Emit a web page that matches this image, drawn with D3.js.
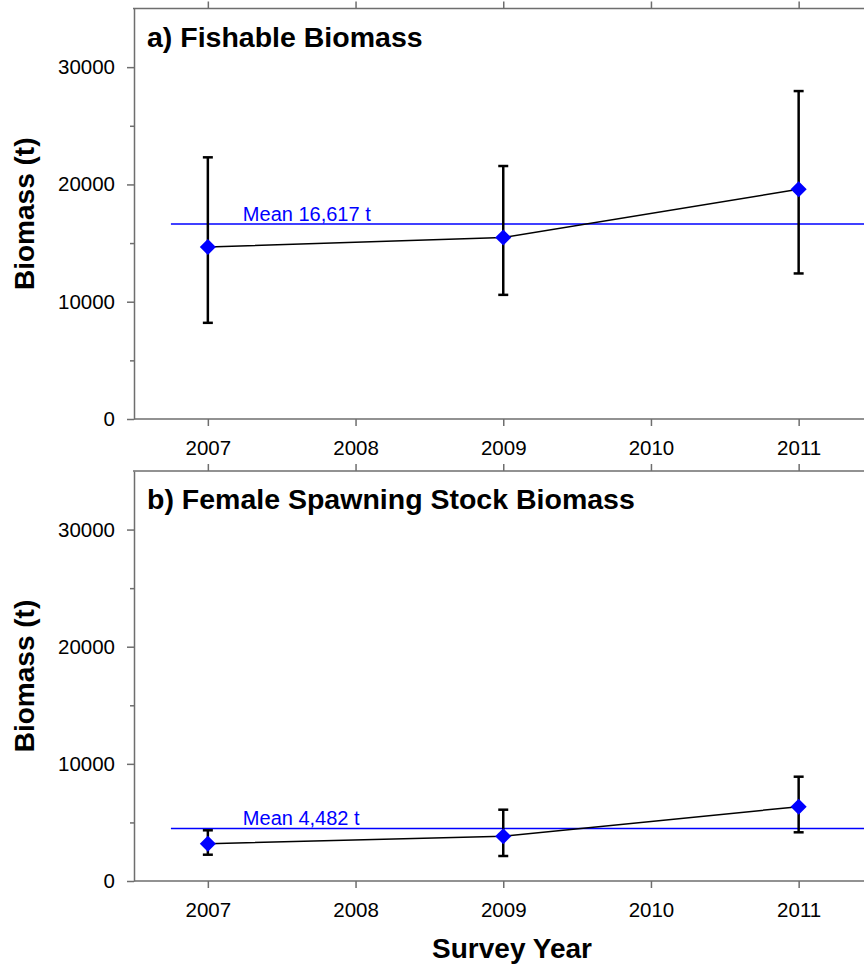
<!DOCTYPE html>
<html>
<head>
<meta charset="utf-8">
<script src="https://cdn.jsdelivr.net/npm/d3@7"></script>
<style>
  body { margin: 0; background: #fff; }
  text { font-family: "Liberation Sans", Arial, Helvetica, sans-serif; }
</style>
</head>
<body>
<div id="my_dataviz"></div>
<script>
// survey years and estimates
var years = [2007, 2009, 2011];
var xTicks = [2007, 2008, 2009, 2010, 2011];
var yTicks = [0, 10000, 20000, 30000];
var yMinor = [5000, 15000, 25000];

var fishable = [14670, 15470, 19590];
var fishableLo = [8200, 10585, 12410];
var fishableHi = [22310, 21570, 27960];
var fishableMean = 16617;

var female = [3184, 3816, 6343];
var femaleLo = [2245, 2134, 4157];
var femaleHi = [4328, 6087, 8904];
var femaleMean = 4482;

var titles = ["a) Fishable Biomass", "b) Female Spawning Stock Biomass"];
var meanLabels = ["Mean 16,617 t", "Mean 4,482 t"];

var width = 864, height = 964;
var axisColor = "#6e6e6e";

var svg = d3.select("#my_dataviz")
  .append("svg")
    .attr("width", width)
    .attr("height", height);

// x runs past the right edge, like the original
var x = d3.scaleLinear()
  .domain([2006.5, 2011.5])
  .range([134, 872.5]);

function drawPanel(top, bottom, title, est, lo, hi, mean, meanLabel) {
  var y = d3.scaleLinear()
    .domain([0, 35000])
    .range([bottom, top]);

  var g = svg.append("g");

  // top frame with ticks pointing up
  var topAxis = g.append("g")
    .attr("transform", "translate(0," + top + ")")
    .call(d3.axisTop(x).tickValues(xTicks).tickSize(7).tickSizeOuter(0).tickFormat(""));
  topAxis.select(".domain").attr("d", "M" + (x.range()[0] - 1) + ",0H" + width);

  // x axis
  var xAxis = g.append("g")
    .attr("transform", "translate(0," + bottom + ")")
    .call(d3.axisBottom(x).tickValues(xTicks).tickSize(7).tickPadding(14)
      .tickSizeOuter(0).tickFormat(d3.format("d")));
  xAxis.select(".domain").attr("d", "M" + x.range()[0] + ",0H" + width);
  xAxis.selectAll("text")
    .style("font-size", "20.5px")
    .attr("fill", "#000");

  // y axis, major and minor
  var yAxis = g.append("g")
    .attr("transform", "translate(" + x.range()[0] + ",0)")
    .call(d3.axisLeft(y).tickValues(yTicks).tickSize(7).tickPadding(12)
      .tickSizeOuter(0).tickFormat(d3.format("d")));
  yAxis.selectAll("text")
    .style("font-size", "20.5px")
    .attr("fill", "#000");
  g.append("g")
    .attr("transform", "translate(" + x.range()[0] + ",0)")
    .call(d3.axisLeft(y).tickValues(yMinor).tickSize(4).tickSizeOuter(0).tickFormat(""))
    .select(".domain").remove();

  g.selectAll(".domain, .tick line")
    .attr("stroke", axisColor)
    .attr("stroke-width", 1.5);

  // panel title
  g.append("text")
    .attr("x", 147)
    .attr("y", top + 38)
    .style("font-size", "28.5px")
    .style("font-weight", "bold")
    .text(title);

  // y label
  g.append("text")
    .attr("transform", "translate(34," + ((top + bottom) / 2) + ")rotate(-90)")
    .attr("text-anchor", "middle")
    .style("font-size", "28px")
    .style("font-weight", "bold")
    .text("Biomass (t)");

  // mean line
  g.append("line")
    .attr("x1", x(2006.75))
    .attr("x2", x(2011.5))
    .attr("y1", y(mean))
    .attr("y2", y(mean))
    .attr("stroke", "#0000ff")
    .attr("stroke-width", 1.5);
  g.append("text")
    .attr("x", x(2007.237))
    .attr("y", y(mean) - 3)
    .attr("fill", "#0000ff")
    .style("font-size", "20px")
    .text(meanLabel);

  var pts = years.map(function(d, i) {
    return {year: d, v: est[i], lo: lo[i], hi: hi[i]};
  });

  // error bars
  var bars = g.selectAll("bar")
    .data(pts)
    .enter()
    .append("g")
      .attr("stroke", "#000")
      .attr("stroke-width", 2.5);
  bars.append("line")
    .attr("x1", function(d) { return x(d.year); })
    .attr("x2", function(d) { return x(d.year); })
    .attr("y1", function(d) { return y(d.lo); })
    .attr("y2", function(d) { return y(d.hi); });
  bars.append("line")
    .attr("x1", function(d) { return x(d.year) - 5; })
    .attr("x2", function(d) { return x(d.year) + 5; })
    .attr("y1", function(d) { return y(d.hi); })
    .attr("y2", function(d) { return y(d.hi); });
  bars.append("line")
    .attr("x1", function(d) { return x(d.year) - 5; })
    .attr("x2", function(d) { return x(d.year) + 5; })
    .attr("y1", function(d) { return y(d.lo); })
    .attr("y2", function(d) { return y(d.lo); });

  // connecting line
  g.append("path")
    .datum(pts)
    .attr("fill", "none")
    .attr("stroke", "#000")
    .attr("stroke-width", 1.5)
    .attr("d", d3.line()
      .x(function(d) { return x(d.year); })
      .y(function(d) { return y(d.v); }));

  // diamonds
  g.selectAll("pt")
    .data(pts)
    .enter()
    .append("path")
      .attr("d", d3.symbol().type(d3.symbolSquare).size(130))
      .attr("transform", function(d) { return "translate(" + x(d.year) + "," + y(d.v) + ")rotate(45)"; })
      .attr("fill", "#0000ff");
}

drawPanel(8.5, 419, titles[0], fishable, fishableLo, fishableHi, fishableMean, meanLabels[0]);
drawPanel(471, 881, titles[1], female, femaleLo, femaleHi, femaleMean, meanLabels[1]);

svg.append("text")
  .attr("x", 512)
  .attr("y", 958)
  .attr("text-anchor", "middle")
  .style("font-size", "28px")
  .style("font-weight", "bold")
  .text("Survey Year");
</script>
</body>
</html>
